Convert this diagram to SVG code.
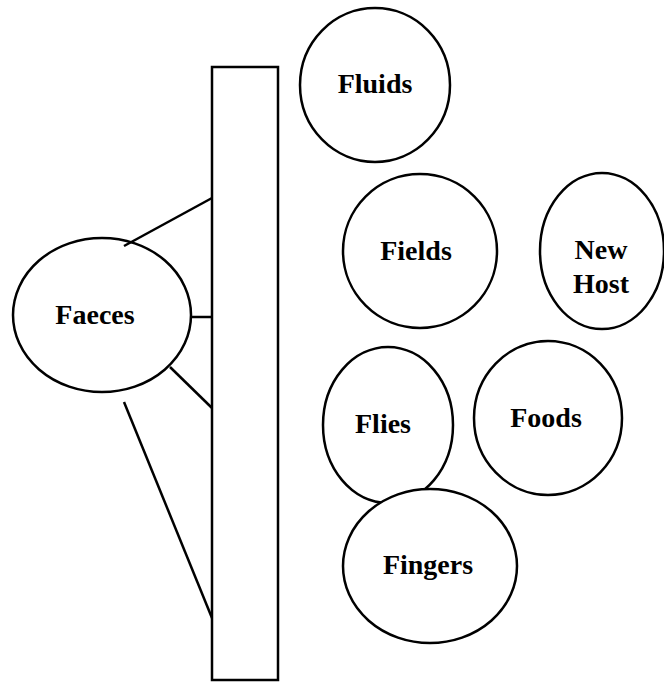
<svg xmlns="http://www.w3.org/2000/svg" width="664" height="682" viewBox="0 0 664 682">
  <style>
    .shape { fill: #fff; stroke: #000; stroke-width: 2.5; }
    .link { stroke: #000; stroke-width: 2.5; fill: none; stroke-linecap: butt; }
    .label { font-family: "Liberation Serif", "Times New Roman", serif; font-weight: bold; font-size: 28px; fill: #000; text-anchor: middle; }
  </style>
  <rect width="664" height="682" fill="#fff"/>

  <g id="barrier">
    <rect class="shape" x="212" y="67" width="66" height="613"/>
  </g>

  <g id="faeces">
    <ellipse class="shape" cx="102" cy="315" rx="89" ry="77"/>
    <text class="label" x="95" y="324">Faeces</text>
  </g>

  <g id="fluids">
    <ellipse class="shape" cx="375" cy="85" rx="75" ry="77"/>
    <text class="label" x="375" y="93">Fluids</text>
  </g>

  <g id="fields">
    <ellipse class="shape" cx="420" cy="251" rx="77" ry="77"/>
    <text class="label" x="416" y="260">Fields</text>
  </g>

  <g id="new-host">
    <ellipse class="shape" cx="602" cy="251" rx="62" ry="78"/>
    <text class="label" x="601" y="259">New</text>
    <text class="label" x="601" y="293">Host</text>
  </g>

  <g id="flies">
    <ellipse class="shape" cx="388" cy="425" rx="65" ry="78"/>
    <text class="label" x="383" y="433">Flies</text>
  </g>

  <g id="foods">
    <ellipse class="shape" cx="548" cy="418" rx="74" ry="77"/>
    <text class="label" x="546" y="427">Foods</text>
  </g>

  <g id="fingers">
    <ellipse class="shape" cx="430" cy="566" rx="87" ry="77"/>
    <text class="label" x="428" y="574">Fingers</text>
  </g>

  <g id="connectors">
    <line class="link" x1="212" y1="198" x2="124" y2="246"/>
    <line class="link" x1="191" y1="317" x2="212" y2="317"/>
    <line class="link" x1="170" y1="367" x2="212" y2="408"/>
    <line class="link" x1="124" y1="402" x2="212" y2="618"/>
  </g>
</svg>
